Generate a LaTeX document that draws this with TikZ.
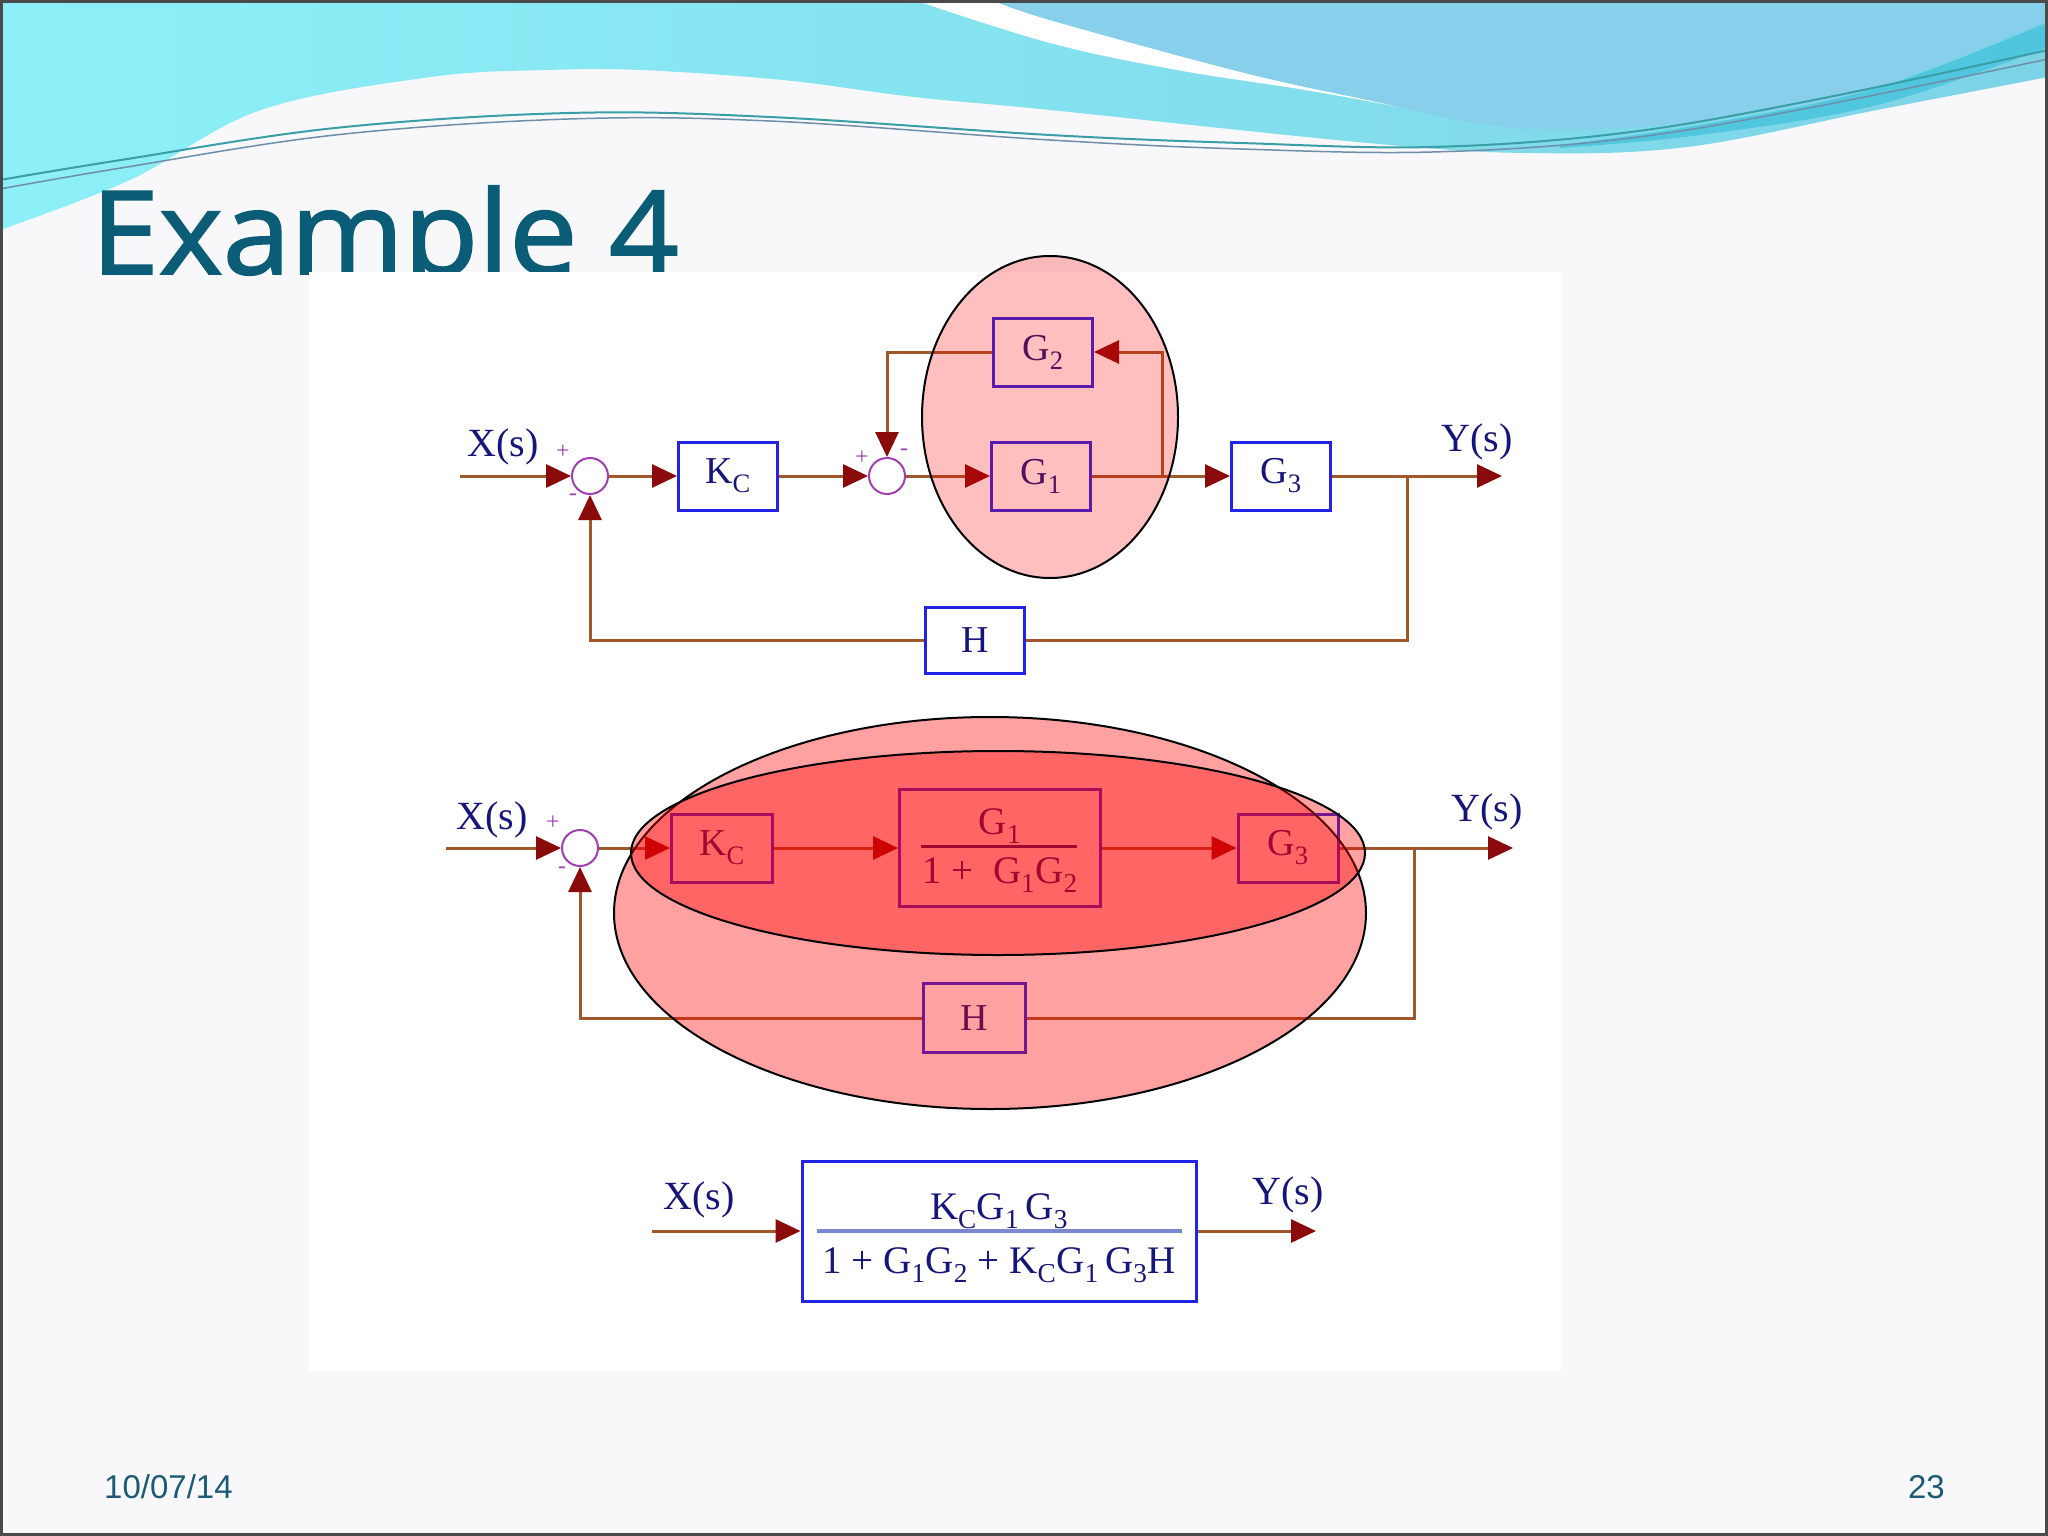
\documentclass[tikz,border=0pt]{standalone}
\usepackage{fontspec}
\setmainfont{Liberation Serif}
\newfontfamily\titlefont[FakeBold=1.6]{Open Sans}
\newfontfamily\footfont{Liberation Sans}
\usetikzlibrary{arrows.meta}
\definecolor{slidebg}{HTML}{F8F8FA}
\definecolor{cyanA}{HTML}{8DF0F8}
\definecolor{cyanA2}{HTML}{7CD3E6}
\definecolor{blueB}{HTML}{88CFEC}
\definecolor{bandC}{HTML}{45C3DD}
\definecolor{wavel1}{HTML}{3A9EA6}
\definecolor{wavel2}{HTML}{6F8EAA}
\definecolor{titlecol}{HTML}{0B5C77}
\definecolor{footcol}{HTML}{1B5B75}
\definecolor{navy}{HTML}{16167A}
\definecolor{boxblue}{HTML}{2323E6}
\definecolor{wirebrown}{HTML}{A0582A}
\definecolor{arrred}{HTML}{8B0A0A}
\definecolor{sumpurple}{HTML}{A040B0}
\definecolor{barblue}{HTML}{7A88D0}
\definecolor{borderc}{HTML}{4A4A4A}
\begin{document}
\begin{tikzpicture}[x=1pt,y=-1pt,
  wire/.style={draw=wirebrown, line width=3pt},
  arr/.style={-{Triangle[length=25pt,width=23pt,color=arrred]}},
  sumc/.style={circle, draw=sumpurple, line width=2pt, minimum size=36pt, inner sep=0pt},
  blk/.style={draw=boxblue, line width=3pt, fill=white, minimum width=99pt, minimum height=68pt, inner sep=0pt, text=navy, font=\fontsize{38}{42}\selectfont},
  txt/.style={text=navy, inner sep=0pt, font=\fontsize{39}{42}\selectfont},
  lbl/.style={text=navy, inner sep=0pt, font=\fontsize{40}{44}\selectfont},
  sgn/.style={text=sumpurple, inner sep=0pt, font=\fontsize{24}{26}\selectfont},
  ell/.style={draw=black, line width=2pt, fill=red, fill opacity=0.37},
  footer/.style={inner sep=0pt, text=footcol, font=\footfont\fontsize{33}{36}\selectfont}]
\useasboundingbox (0,0) rectangle (2048,1536);
% slide background
\fill[slidebg] (0,0) rectangle (2048,1536);
% waves
\shade[left color=cyanA, right color=cyanA2] (0,0) -- (2048,0) -- (2048,77) -- plot[smooth, tension=0.6] coordinates {(2048,77) (1877,110) (1687,147) (1527,153) (1368,143) (1050,110) (914,97) (783,80) (640,70) (548,70) (431,77) (261,110) (130,180) (0,230)} -- cycle;
\fill[white] plot[smooth, tension=0.6] coordinates {(992,0) (1050,20) (1241,72) (1368,100) (1496,126)} -- plot[smooth, tension=0.6] coordinates {(1496,126) (1432,113) (1305,90) (1177,70) (1050,43) (914,0)} -- cycle;
\fill[blueB] (992,0) -- (2048,0) -- (2048,20) -- plot[smooth, tension=0.6] coordinates {(2048,20) (1877,87) (1750,113) (1623,128) (1496,126) (1368,100) (1241,72) (1050,20) (992,0)} -- cycle;
\fill[bandC, opacity=0.8] plot[smooth, tension=0.6] coordinates {(1560,145) (1700,125) (1877,88) (2048,22)} -- plot[smooth, tension=0.6] coordinates {(2048,47) (1877,105) (1700,135) (1560,148)} -- cycle;
\draw[wavel1, line width=2pt] plot[smooth, tension=0.6] coordinates {(0,180) (121,160) (335,128) (569,113) (770,117) (1050,135) (1241,143) (1432,147) (1623,133) (1814,100) (2048,50)};
\draw[wavel2, line width=1.5pt] plot[smooth, tension=0.6] coordinates {(0,189) (121,168) (335,135) (569,119) (770,121) (1050,140) (1241,149) (1432,152) (1623,139) (1814,107) (2048,59)};
% title
\node[anchor=base west, inner sep=0pt, text=titlecol, font=\titlefont\fontsize{116}{120}\selectfont] (title) at (91,274) {\scalebox{1.05}[1]{Example 4}};
% picture area
\fill[white] (309,272) rectangle (1561,1371);

% ===== top diagram =====
\node[sumc] (s1) at (590,476) {};
\node[blk] (kc1) at (728,476) {K\textsubscript{C}};
\node[sumc] (s2) at (887,476) {};
\node[blk] (g1) at (1041,476) {G\textsubscript{1}};
\node[blk] (g2) at (1043,352) {G\textsubscript{2}};
\node[blk] (g3) at (1281,476) {G\textsubscript{3}};
\node[blk, minimum height=66pt] (h1) at (975,640) {H};
\coordinate (in1) at (460,476);
\coordinate (out1) at (1502,476);
\coordinate (j1) at (1162,476);
\coordinate (j1u) at (1162,352);
\coordinate (s2u) at (887,352);
\coordinate (j2) at (1407,476);
\coordinate (j2d) at (1407,640);
\coordinate (s1d) at (590,640);
\draw[wire,arr] (in1) -- (s1.west);
\draw[wire,arr] (s1.east) -- (kc1.west);
\draw[wire,arr] (kc1.east) -- (s2.west);
\draw[wire,arr] (s2.east) -- (g1.west);
\draw[wire] (g1.east) -- (j1);
\draw[wire,arr] (j1) -- (g3.west);
\draw[wire,arr] (j1) -- (j1u) -- (g2.east);
\draw[wire,arr] (g2.west) -- (s2u) -- (s2.north);
\draw[wire] (g3.east) -- (j2);
\draw[wire,arr] (j2) -- (out1);
\draw[wire] (j2) -- (j2d) -- (h1.east);
\draw[wire,arr] (h1.west) -- (s1d) -- (s1.south);
\node[lbl] (xs1) at (503,447) {X(s)};
\node[lbl] (ys1) at (1477,442) {Y(s)};
\node[sgn] (p1) at (563,452) {+};
\node[sgn] (m1) at (573,497) {-};
\node[sgn] (p2) at (862,458) {+};
\node[sgn] (m2) at (904,452) {-};
\draw[draw=black, line width=2pt, fill=red, fill opacity=0.25] (1050,417) ellipse [x radius=128pt, y radius=161pt];

% ===== middle diagram =====
\node[sumc] (s3) at (580,848) {};
\node[blk, minimum width=101pt] (kc2) at (722,848) {K\textsubscript{C}};
\node[blk, minimum width=201pt, minimum height=117pt] (fr2) at (1000,848) {};
\node[txt, anchor=base] (fr2n) at (1000,834) {G\textsubscript{1}};
\node[txt, anchor=base] (fr2d) at (1000,883) {1 +\enspace G\textsubscript{1}G\textsubscript{2}};
\coordinate (fr2b1) at (921,846);
\coordinate (fr2b2) at (1077,846);
\draw[navy, line width=3pt] (fr2b1) -- (fr2b2);
\node[blk, minimum width=100pt] (g3b) at (1288,848) {G\textsubscript{3}};
\node[blk, minimum width=102pt, minimum height=69pt] (h2) at (974,1018) {H};
\coordinate (in2) at (446,848);
\coordinate (out2) at (1513,848);
\coordinate (j3) at (1414,848);
\coordinate (j3d) at (1414,1018);
\coordinate (s3d) at (580,1018);
\draw[wire,arr] (in2) -- (s3.west);
\draw[wire,arr] (s3.east) -- (kc2.west);
\draw[wire,arr] (kc2.east) -- (fr2.west);
\draw[wire,arr] (fr2.east) -- (g3b.west);
\draw[wire] (g3b.east) -- (j3);
\draw[wire,arr] (j3) -- (out2);
\draw[wire] (j3) -- (j3d) -- (h2.east);
\draw[wire,arr] (h2.west) -- (s3d) -- (s3.south);
\node[lbl] (xs2) at (492,820) {X(s)};
\node[lbl] (ys2) at (1487,812) {Y(s)};
\node[sgn] (p3) at (553,823) {+};
\node[sgn] (m3) at (562,870) {-};
\draw[ell] (990,913) ellipse [x radius=376pt, y radius=196pt];
\draw[ell] (998,853) ellipse [x radius=367pt, y radius=102pt];

% ===== bottom diagram =====
\node[blk, minimum width=394pt, minimum height=140pt] (tf) at (999,1231) {};
\node[txt, anchor=base] (tfn) at (999,1219) {K\textsubscript{C}G\textsubscript{1}\,G\textsubscript{3}};
\node[txt, anchor=base] (tfd) at (999,1273) {1 + G\textsubscript{1}G\textsubscript{2} + K\textsubscript{C}G\textsubscript{1}\,G\textsubscript{3}H};
\coordinate (tfb1) at (817,1231);
\coordinate (tfb2) at (1182,1231);
\draw[barblue, line width=4pt] (tfb1) -- (tfb2);
\coordinate (in3) at (652,1231);
\coordinate (out3) at (1316,1231);
\draw[wire,arr] (in3) -- (tf.west);
\draw[wire,arr] (tf.east) -- (out3);
\node[lbl] (xs3) at (699,1200) {X(s)};
\node[lbl] (ys3) at (1288,1195) {Y(s)};

% footer
\node[footer, anchor=base west] (date) at (104,1498) {10/07/14};
\node[footer, anchor=base east] (pg) at (1945,1498) {23};
% slide border
\draw[borderc, line width=3pt] (1.5,1.5) rectangle (2046.5,1534.5);
\end{tikzpicture}
\end{document}
